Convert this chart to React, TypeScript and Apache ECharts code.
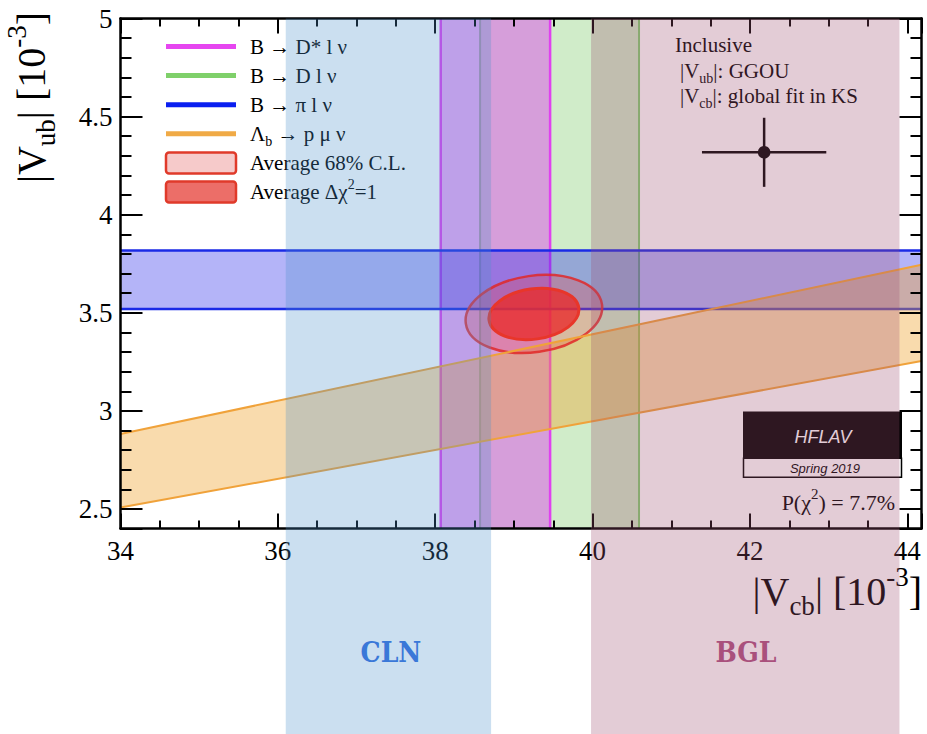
import React, { useEffect, useRef } from 'react';
import * as echarts from 'echarts';

// ---- axis ranges & tick labels ----
const X_MIN = 34;
const X_MAX = 44.18;
const Y_MIN = 2.4;
const Y_MAX = 5;
const xMajorTicks = [34, 36, 38, 40, 42, 44];
const yMajorTicks = [2.5, 3, 3.5, 4, 4.5, 5];

// ---- constraints (units of 1e-3) ----
const clnBand = [36.1, 38.71];
const bglBand = [39.98, 43.9];
const dStarBand = [38.07, 39.46]; // B -> D* l nu
const dBand = [38.57, 40.59]; // B -> D l nu
const piBand = [3.519, 3.817]; // B -> pi l nu (|Vub|)
const lambdaLower = [[34, 2.507], [44.18, 3.254]]; // Lambda_b -> p mu nu
const lambdaUpper = [[34, 2.882], [44.18, 3.745]];
const avgCenter = [39.254, 3.494];
const avg68 = [0.868, 0.199, 0.17]; // half extent Vcb, half extent Vub, correlation
const avgChi1 = [0.572, 0.131, 0.17];
const inclusive = [42.18, 4.318, 0.79, 0.176]; // Vcb, Vub, errVcb, errVub

const legendLabels = [
  '{n|B → D* l ν}',
  '{n|B → D l ν}',
  '{n|B → π l ν}',
  '{n|Λ}{sb|b}{n| → p μ ν}',
  '{n|Average 68% C.L.}',
  '{n|Average Δχ}{sp|2}{n|=1}',
];
const inclusiveLabels = ['{n|Inclusive}', '{n||V}{sb|ub}{n||: GGOU}', '{n||V}{sb|cb}{n||: global fit in KS}'];
const pChi2Label = '{n|P(χ}{sp|2}{n|) = 7.7%}';

const SERIF = 'Liberation Serif';
const SANS = 'Liberation Sans';

const rich = (s: number) => ({
  n: { fontFamily: SERIF, fontSize: s, lineHeight: Math.round(s * 1.4), fill: '#000' },
  sb: { fontFamily: SERIF, fontSize: Math.round(s * 0.68), lineHeight: Math.round(s * 0.68), verticalAlign: 'bottom', fill: '#000' },
  sp: { fontFamily: SERIF, fontSize: Math.round(s * 0.68), lineHeight: Math.round(s * 0.68), verticalAlign: 'top', fill: '#000' },
});

const isTick = (arr: number[], v: number) => arr.some((t) => Math.abs(t - v) < 1e-6);

const tickRich = { t: { fontFamily: SERIF, fontSize: 27, color: '#000', lineHeight: 30 } };

function axisX(position: string, step: number, len: number, labels: boolean, line: boolean) {
  return {
    type: 'value', gridIndex: 0, position, min: X_MIN, max: X_MAX, minInterval: step, maxInterval: step, z: 5,
    axisLine: { show: line, onZero: false, lineStyle: { color: '#000', width: 2.5 } },
    axisTick: { show: true, inside: true, length: len, lineStyle: { color: '#000', width: 2 } },
    axisLabel: {
      show: labels, margin: 7, fontFamily: SERIF, fontSize: 27, color: '#000', rich: tickRich,
      formatter: (v: number) => (isTick(xMajorTicks, v) ? `{t|${v}}` : ''),
    },
    splitLine: { show: false },
  };
}
function axisY(position: string, step: number, len: number, labels: boolean, line: boolean) {
  return {
    type: 'value', gridIndex: 0, position, min: Y_MIN, max: Y_MAX, minInterval: step, maxInterval: step, z: 5,
    axisLine: { show: line, onZero: false, lineStyle: { color: '#000', width: 2.5 } },
    axisTick: { show: true, inside: true, length: len, lineStyle: { color: '#000', width: 2 } },
    axisLabel: {
      show: labels, margin: 8, fontFamily: SERIF, fontSize: 27, color: '#000', rich: tickRich,
      formatter: (v: number) => (isTick(yMajorTicks, v) ? `{t|${v}}` : ''),
    },
    splitLine: { show: false },
  };
}

const vBand = (fill: string, stroke: string, lw: number) => (_p: any, api: any) => {
  const p0 = api.coord([api.value(0), Y_MAX]);
  const p1 = api.coord([api.value(1), Y_MIN]);
  return {
    type: 'group',
    children: [
      { type: 'rect', shape: { x: p0[0], y: p0[1], width: p1[0] - p0[0], height: p1[1] - p0[1] }, style: { fill } },
      { type: 'line', shape: { x1: p0[0], y1: p0[1], x2: p0[0], y2: p1[1] }, style: { stroke, lineWidth: lw } },
      { type: 'line', shape: { x1: p1[0], y1: p0[1], x2: p1[0], y2: p1[1] }, style: { stroke, lineWidth: lw } },
    ],
  };
};

const overlay = (fill: string) => (_p: any, api: any) => {
  const p0 = api.coord([api.value(0), Y_MAX]);
  const p1 = api.coord([api.value(1), Y_MAX]);
  return { type: 'rect', shape: { x: p0[0], y: p0[1], width: p1[0] - p0[0], height: api.getHeight() - p0[1] }, style: { fill } };
};

const ellipse = (fill: string, stroke: string, lw: number) => (_p: any, api: any) => {
  const c = api.coord([api.value(0), api.value(1)]);
  const s = api.size([api.value(2), api.value(3)]);
  const w = s[0], h = s[1], rho = api.value(4);
  const cxy = -rho * w * h;
  const A = w * w, B = h * h;
  const phi = 0.5 * Math.atan2(2 * cxy, A - B);
  const mean = (A + B) / 2;
  const diff = Math.sqrt(((A - B) / 2) ** 2 + cxy * cxy);
  const a = Math.sqrt(mean + diff), b = Math.sqrt(Math.max(mean - diff, 0));
  return { type: 'ellipse', x: c[0], y: c[1], rotation: -phi, shape: { cx: 0, cy: 0, rx: a, ry: b }, style: { fill, stroke, lineWidth: lw } };
};

function buildOption() {
  const legendColors = ['#e646f0', '#7fd06a', '#0a1ff0', '#f0aa46'];
  const graphics: any[] = [];
  legendLabels.forEach((t, i) => {
    const y = 46.5 + i * 29.1;
    if (i < 4) {
      graphics.push({ type: 'line', z: 4, shape: { x1: 166, y1: y, x2: 236, y2: y }, style: { stroke: legendColors[i], lineWidth: 5 } });
    } else {
      graphics.push({
        type: 'rect', z: 4, shape: { x: 166, y: y - 10.5, width: 70, height: 21, r: 3 },
        style: { fill: i === 4 ? '#f6caca' : '#ec6e68', stroke: '#e03a2a', lineWidth: 2.5 },
      });
    }
    graphics.push({ type: 'text', z: 4, x: 250, y, style: { text: t, rich: rich(21), align: 'left', verticalAlign: 'middle' } });
  });
  inclusiveLabels.forEach((t, i) => {
    graphics.push({ type: 'text', z: 4, x: i === 0 ? 675 : 680, y: 45 + i * 25.5, style: { text: t, rich: rich(21), align: 'left', verticalAlign: 'middle' } });
  });
  // HFLAV logo
  graphics.push({ type: 'rect', z: 4, shape: { x: 743, y: 411.5, width: 159, height: 47 }, style: { fill: '#000' } });
  graphics.push({ type: 'rect', z: 4, shape: { x: 743.5, y: 458.3, width: 158, height: 19 }, style: { fill: '#fff', stroke: '#000', lineWidth: 1.5 } });
  graphics.push({ type: 'text', z: 4, x: 823, y: 437, style: { text: 'HFLAV', fontFamily: SANS, fontStyle: 'italic', fontSize: 18, fill: '#fff', align: 'center', verticalAlign: 'middle' } });
  graphics.push({ type: 'text', z: 4, x: 825, y: 468, style: { text: 'Spring 2019', fontFamily: SANS, fontStyle: 'italic', fontSize: 13, fill: '#000', align: 'center', verticalAlign: 'middle' } });
  graphics.push({ type: 'text', z: 4, x: 895, y: 502, style: { text: pChi2Label, rich: rich(22), align: 'right', verticalAlign: 'middle' } });
  // axis titles
  graphics.push({ type: 'text', z: 4, x: 31, y: 12, rotation: Math.PI / 2, style: { text: '{n||V}{sb|ub}{n|| [10}{sp|-3}{n|]}', rich: rich(40), align: 'right', verticalAlign: 'middle' } });
  graphics.push({ type: 'text', z: 4, x: 922, y: 591, style: { text: '{n||V}{sb|cb}{n|| [10}{sp|-3}{n|]}', rich: rich(40), align: 'right', verticalAlign: 'middle' } });
  // parametrisation labels
  graphics.push({ type: 'text', z: 20, x: 391, y: 652, style: { text: 'CLN', fontFamily: 'DejaVu Serif Condensed', fontWeight: 'bold', fontSize: 28, fill: '#3a78d8', align: 'center', verticalAlign: 'middle' } });
  graphics.push({ type: 'text', z: 20, x: 746, y: 652, style: { text: 'BGL', fontFamily: 'DejaVu Serif Condensed', fontWeight: 'bold', fontSize: 28, fill: '#a9507c', align: 'center', verticalAlign: 'middle' } });

  return {
    animation: false,
    backgroundColor: '#fff',
    textStyle: { fontFamily: SERIF },
    grid: { left: 120.5, top: 18.5, right: 5.5, bottom: 205.4 },
    xAxis: [
      axisX('bottom', 2, 15, true, true),
      axisX('bottom', 0.5, 8, false, false),
      axisX('top', 2, 15, false, true),
      axisX('top', 0.5, 8, false, false),
    ],
    yAxis: [
      axisY('left', 0.5, 22, true, true),
      axisY('left', 0.1, 11, false, false),
      axisY('right', 0.5, 22, false, true),
      axisY('right', 0.1, 11, false, false),
    ],
    graphic: graphics,
    series: [
      { type: 'custom', name: 'B→Dlν', z: 2, silent: true, data: [dBand], renderItem: vBand('rgba(121,201,100,0.35)', '#7fcf6f', 2) },
      { type: 'custom', name: 'B→D*lν', z: 2, silent: true, data: [dStarBand], renderItem: vBand('rgba(220,80,235,0.5)', '#e040f0', 2.5) },
      {
        type: 'custom', name: 'B→πlν', z: 2, silent: true, data: [piBand],
        renderItem: (_p: any, api: any) => {
          const p0 = api.coord([X_MIN, api.value(1)]);
          const p1 = api.coord([X_MAX, api.value(0)]);
          const st = { stroke: '#1a2ae6', lineWidth: 2.5 };
          return {
            type: 'group',
            children: [
              { type: 'rect', shape: { x: p0[0], y: p0[1], width: p1[0] - p0[0], height: p1[1] - p0[1] }, style: { fill: 'rgba(40,40,235,0.35)' } },
              { type: 'line', shape: { x1: p0[0], y1: p0[1], x2: p1[0], y2: p0[1] }, style: st },
              { type: 'line', shape: { x1: p0[0], y1: p1[1], x2: p1[0], y2: p1[1] }, style: st },
            ],
          };
        },
      },
      {
        type: 'custom', name: 'Λb→pμν', z: 2, silent: true, data: [[X_MIN, Y_MIN]],
        renderItem: (_p: any, api: any) => {
          const pts = [...lambdaLower, ...lambdaUpper.slice().reverse()].map((p) => api.coord(p));
          return { type: 'polygon', shape: { points: pts }, style: { fill: 'rgba(240,160,40,0.38)' } };
        },
      },
      { type: 'line', z: 2, silent: true, data: lambdaLower, showSymbol: false, lineStyle: { color: '#f0a23a', width: 2 } },
      { type: 'line', z: 2, silent: true, data: lambdaUpper, showSymbol: false, lineStyle: { color: '#f0a23a', width: 2 } },
      { type: 'custom', name: 'Average 68% C.L.', z: 2, silent: true, data: [[...avgCenter, ...avg68]], renderItem: ellipse('rgba(235,70,70,0.3)', 'rgba(225,40,40,0.85)', 2.5) },
      { type: 'custom', name: 'Average Δχ2=1', z: 2, silent: true, data: [[...avgCenter, ...avgChi1]], renderItem: ellipse('rgba(232,45,45,0.8)', '#e8362a', 3) },
      {
        type: 'custom', name: 'Inclusive', z: 2, silent: true, data: [inclusive],
        renderItem: (_p: any, api: any) => {
          const x = api.value(0), y = api.value(1), ex = api.value(2), ey = api.value(3);
          const c = api.coord([x, y]);
          const l = api.coord([x - ex, y]), r = api.coord([x + ex, y]);
          const t = api.coord([x, y + ey]), b = api.coord([x, y - ey]);
          const st = { stroke: '#000', lineWidth: 2.5 };
          return {
            type: 'group',
            children: [
              { type: 'line', shape: { x1: l[0], y1: l[1], x2: r[0], y2: r[1] }, style: st },
              { type: 'line', shape: { x1: t[0], y1: t[1], x2: b[0], y2: b[1] }, style: st },
              { type: 'circle', shape: { cx: c[0], cy: c[1], r: 6.3 }, style: { fill: '#000' } },
            ],
          };
        },
      },
      { type: 'custom', name: 'CLN', z: 10, silent: true, data: [clnBand], renderItem: overlay('rgba(76,145,203,0.29)') },
      { type: 'custom', name: 'BGL', z: 10, silent: true, data: [bglBand], renderItem: overlay('rgba(159,79,114,0.29)') },
    ],
  };
}

export default function App() {
  const ref = useRef<HTMLDivElement>(null);
  useEffect(() => {
    const chart = echarts.init(ref.current!, null, { renderer: 'svg' });
    chart.setOption(buildOption() as any);
    return () => chart.dispose();
  }, []);
  return <div ref={ref} style={{ position: 'absolute', left: 0, top: 0, width: 927, height: 734, background: '#fff' }} />;
}
